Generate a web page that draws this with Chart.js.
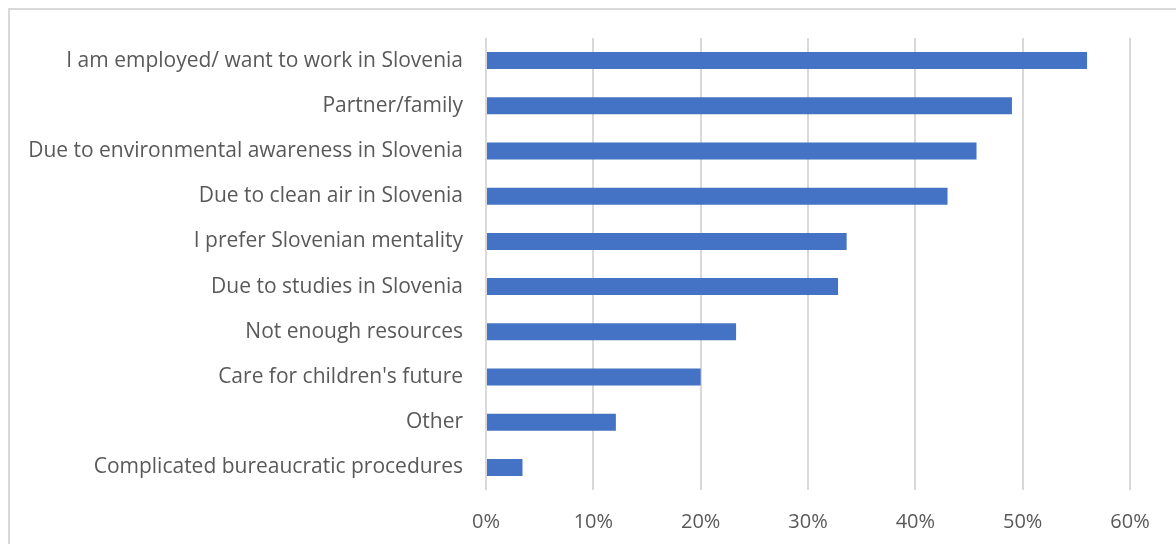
<!DOCTYPE html>
<html>
<head>
<meta charset="utf-8">
<script src="https://cdn.jsdelivr.net/npm/chart.js@4"></script>
<style>
  html, body { margin: 0; padding: 0; background: #fff; overflow: hidden; }
  .wrap { position: relative; width: 1176px; height: 544px; }
  .frame { position: absolute; left: 8px; top: 8px; width: 1300px; height: 700px; border: 2px solid #d9d9d9; box-sizing: border-box; }
  canvas { position: absolute; left: 0; top: 0; }
</style>
</head>
<body>
<div class="wrap">
  <div class="frame"></div>
  <canvas id="reasons" width="1176" height="544"></canvas>
</div>
<script>
const reasons = [
  "I am employed/ want to work in Slovenia",
  "Partner/family",
  "Due to environmental awareness in Slovenia",
  "Due to clean air in Slovenia",
  "I prefer Slovenian mentality",
  "Due to studies in Slovenia",
  "Not enough resources",
  "Care for children's future",
  "Other",
  "Complicated bureaucratic procedures",
];
const shares = [56.0, 49.0, 45.7, 43.0, 33.6, 32.8, 23.3, 20.0, 12.1, 3.4];
const xTicks = [0, 10, 20, 30, 40, 50, 60];

const textColor = "#595959";
const fontFamily = "'Open Sans', sans-serif";

const ctx = document.getElementById("reasons").getContext("2d");

const barChart = new Chart(ctx, {
  type: "bar",
  data: {
    labels: reasons,
    datasets: [
      {
        data: shares,
        backgroundColor: "#4472c4",
        borderWidth: 0,
        categoryPercentage: 1,
        barPercentage: 0.376,
      },
    ],
  },
  options: {
    indexAxis: "y",
    responsive: false,
    animation: false,
    layout: {
      padding: { top: 38, right: 46, bottom: 0, left: 0 },
    },
    plugins: {
      legend: { display: false },
      tooltip: { enabled: false },
    },
    scales: {
      x: {
        min: xTicks[0],
        max: xTicks[xTicks.length - 1],
        afterBuildTicks: (scale) => {
          scale.ticks = xTicks.map((v) => ({ value: v }));
        },
        afterFit: (scale) => {
          scale.height = 54;
        },
        grid: {
          color: "#d9d9d9",
          lineWidth: 2,
          drawTicks: false,
        },
        border: { display: false },
        ticks: {
          padding: 20,
          color: textColor,
          font: { family: fontFamily, size: 20 },
          callback: (v) => v + "%",
        },
      },
      y: {
        afterFit: (scale) => {
          scale.width = 486;
        },
        grid: { display: false },
        border: { display: false },
        ticks: {
          padding: 15,
          color: textColor,
          font: { family: fontFamily, size: 21 },
        },
      },
    },
  },
});
</script>
</body>
</html>
